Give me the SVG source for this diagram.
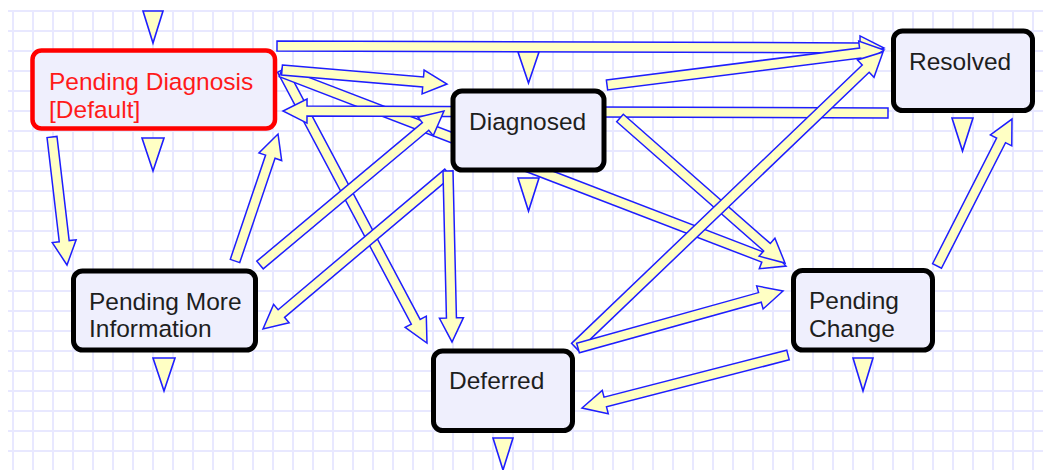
<svg xmlns="http://www.w3.org/2000/svg" width="1043" height="470" viewBox="0 0 1043 470">
  <defs>
    <pattern id="grid" patternUnits="userSpaceOnUse" x="3" y="1" width="20" height="20">
      <path d="M10 0V20M0 10H20" stroke="#E8E8FF" stroke-width="2" fill="none"/>
    </pattern>
    <style>
      .arr { fill: #FFFFC4; stroke: #1E1EFF; stroke-width: 1.5; stroke-linejoin: miter; }
      .tri { fill: #FFFFC4; stroke: #1E1EFF; stroke-width: 1.6; }
      .box { fill: #EFEFFD; stroke: #000; stroke-width: 5; }
      .box-default { fill: #EFEFFD; stroke: #FF0000; stroke-width: 4.5; }
      .lbl { font-family: "Liberation Sans", Arial, sans-serif; font-size: 24.5px; fill: #1E1E1E; }
      .lbl-default { font-family: "Liberation Sans", Arial, sans-serif; font-size: 24.5px; fill: #FF1A1A; }
    </style>
  </defs>

  <!-- background and grid -->
  <rect x="0" y="0" width="1043" height="470" fill="#FFFFFF"/>
  <rect x="8" y="10" width="1035" height="460" fill="url(#grid)"/>

  <!-- transitions: each arrow is drawn tail at origin, pointing along +x -->
  <g id="connectors">
    <polygon class="arr" transform="translate(52,137) rotate(83.32)" points="0,-5 104.9,-5 104.9,-12 128.9,0 104.9,12 104.9,5 0,5"/>
    <polygon class="arr" transform="translate(235,261) rotate(-71.29)" points="0,-5 110.1,-5 110.1,-12 134.1,0 110.1,12 110.1,5 0,5"/>
    <polygon class="arr" transform="translate(282,70) rotate(62.03)" points="0,-5 285.1,-5 285.1,-12 309.1,0 285.1,12 285.1,5 0,5"/>
    <polygon class="arr" transform="translate(281,72) rotate(21.02)" points="0,-5 517,-5 517,-12 541,0 517,12 517,5 0,5"/>
    <polygon class="arr" transform="translate(277,46) rotate(0.19)" points="0,-5 583,-5 583,-12 607,0 583,12 583,5 0,5"/>
    <polygon class="arr" transform="translate(282,70) rotate(4.85)" points="0,-5 141.6,-5 141.6,-12 165.6,0 141.6,12 141.6,5 0,5"/>
    <polygon class="arr" transform="translate(888,113) rotate(180.19)" points="0,-5 581,-5 581,-12 605,0 581,12 581,5 0,5"/>
    <polygon class="arr" transform="translate(260,265) rotate(-39.93)" points="0,-5 215.9,-5 215.9,-12 239.9,0 215.9,12 215.9,5 0,5"/>
    <polygon class="arr" transform="translate(448,173) rotate(139.86)" points="0,-5 218,-5 218,-12 242,0 218,12 218,5 0,5"/>
    <polygon class="arr" transform="translate(448,171) rotate(88.66)" points="0,-5 147,-5 147,-12 171,0 147,12 147,5 0,5"/>
    <polygon class="arr" transform="translate(607,85) rotate(-7.2)" points="0,-5 255.2,-5 255.2,-12 279.2,0 255.2,12 255.2,5 0,5"/>
    <polygon class="arr" transform="translate(620,118) rotate(41.31)" points="0,-5 195.7,-5 195.7,-12 219.7,0 195.7,12 195.7,5 0,5"/>
    <polygon class="arr" transform="translate(575,347) rotate(-43.76)" points="0,-5 402.5,-5 402.5,-12 426.5,0 402.5,12 402.5,5 0,5"/>
    <polygon class="arr" transform="translate(578,348) rotate(-15.54)" points="0,-5 188.8,-5 188.8,-12 212.8,0 188.8,12 188.8,5 0,5"/>
    <polygon class="arr" transform="translate(788,355) rotate(165.57)" points="0,-5 188.7,-5 188.7,-12 212.7,0 188.7,12 188.7,5 0,5"/>
    <polygon class="arr" transform="translate(937,266) rotate(-62.97)" points="0,-5 141,-5 141,-12 165,0 141,12 141,5 0,5"/>
  </g>

  <!-- state nodes -->
  <g id="pending-diagnosis">
    <rect class="box-default" x="32.5" y="50.5" width="242.5" height="78" rx="9"/>
    <text class="lbl-default" x="49" y="90">Pending Diagnosis</text>
    <text class="lbl-default" x="49" y="118">[Default]</text>
    <polygon class="tri" points="143,11 163,11 153,43"/>
    <polygon class="tri" points="142,138 164,138 153,171"/>
  </g>
  <g id="diagnosed">
    <rect class="box" x="453" y="91" width="151" height="79" rx="9"/>
    <text class="lbl" x="469" y="130">Diagnosed</text>
    <polygon class="tri" points="518,52 539,52 528.5,83"/>
    <polygon class="tri" points="518,178 539,178 528.5,211"/>
  </g>
  <g id="resolved">
    <rect class="box" x="893.5" y="31" width="139" height="79.5" rx="9"/>
    <text class="lbl" x="909" y="70">Resolved</text>
    <polygon class="tri" points="952,118 973,118 962.5,151"/>
  </g>
  <g id="pending-more-information">
    <rect class="box" x="73.5" y="271" width="182" height="79" rx="9"/>
    <text class="lbl" x="89" y="310">Pending More</text>
    <text class="lbl" x="89" y="337">Information</text>
    <polygon class="tri" points="153,358 175,358 164,391"/>
  </g>
  <g id="deferred">
    <rect class="box" x="433.5" y="351" width="139" height="79.5" rx="9"/>
    <text class="lbl" x="449" y="389">Deferred</text>
    <polygon class="tri" points="493,438 513,438 503,470"/>
  </g>
  <g id="pending-change">
    <rect class="box" x="793.5" y="270.5" width="139" height="79.5" rx="9"/>
    <text class="lbl" x="809" y="309">Pending</text>
    <text class="lbl" x="809" y="337">Change</text>
    <polygon class="tri" points="853,358 873,358 863,391"/>
  </g>
</svg>
